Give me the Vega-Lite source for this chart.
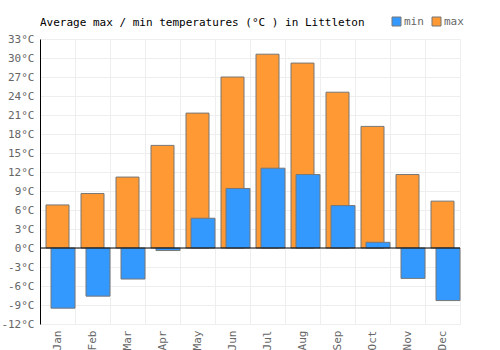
{
  "$schema": "https://vega.github.io/schema/vega-lite/v6.json",
  "width": 420,
  "height": 285,
  "autosize": {"type": "none"},
  "padding": {"left": 40, "top": 39, "right": 40, "bottom": 26},
  "background": "white",
  "title": {
    "text": "Average max / min temperatures (°C ) in Littleton",
    "anchor": "start",
    "frame": "group",
    "font": "DejaVu Sans Mono",
    "fontSize": 11,
    "fontWeight": "normal",
    "color": "#000000",
    "offset": -12
  },
  "config": {
    "view": {"stroke": null},
    "axis": {
      "labelFont": "DejaVu Sans Mono",
      "labelFontSize": 11,
      "labelColor": "#666666",
      "gridColor": "#eeeeee",
      "gridWidth": 1,
      "ticks": false,
      "title": null,
      "labelOverlap": false
    }
  },
  "data": {
    "values": [
      {"month": "Jan", "series": "max", "temp": 6.8},
      {"month": "Feb", "series": "max", "temp": 8.6},
      {"month": "Mar", "series": "max", "temp": 11.2},
      {"month": "Apr", "series": "max", "temp": 16.2},
      {"month": "May", "series": "max", "temp": 21.3},
      {"month": "Jun", "series": "max", "temp": 27.0},
      {"month": "Jul", "series": "max", "temp": 30.6},
      {"month": "Aug", "series": "max", "temp": 29.2},
      {"month": "Sep", "series": "max", "temp": 24.6},
      {"month": "Oct", "series": "max", "temp": 19.2},
      {"month": "Nov", "series": "max", "temp": 11.6},
      {"month": "Dec", "series": "max", "temp": 7.4},
      {"month": "Jan", "series": "min", "temp": -9.5},
      {"month": "Feb", "series": "min", "temp": -7.6},
      {"month": "Mar", "series": "min", "temp": -4.9},
      {"month": "Apr", "series": "min", "temp": -0.4},
      {"month": "May", "series": "min", "temp": 4.7},
      {"month": "Jun", "series": "min", "temp": 9.4},
      {"month": "Jul", "series": "min", "temp": 12.6},
      {"month": "Aug", "series": "min", "temp": 11.6},
      {"month": "Sep", "series": "min", "temp": 6.7},
      {"month": "Oct", "series": "min", "temp": 0.9},
      {"month": "Nov", "series": "min", "temp": -4.8},
      {"month": "Dec", "series": "min", "temp": -8.3}
    ]
  },
  "encoding": {
    "x": {
      "field": "month",
      "type": "nominal",
      "sort": ["Jan","Feb","Mar","Apr","May","Jun","Jul","Aug","Sep","Oct","Nov","Dec"],
      "scale": {"paddingInner": 0, "paddingOuter": 0},
      "axis": {
        "grid": true,
        "tickBand": "extent",
        "domain": false,
        "labelAngle": -90,
        "labelAlign": "right",
        "labelBaseline": "middle",
        "labelPadding": 6
      }
    },
    "y": {
      "field": "temp",
      "type": "quantitative",
      "scale": {"domain": [-12, 33], "nice": false, "zero": false},
      "axis": {
        "values": [-12,-9,-6,-3,0,3,6,9,12,15,18,21,24,27,30,33],
        "labelExpr": "datum.value + '°C'",
        "domain": true,
        "domainColor": "#000000",
        "grid": true,
        "labelPadding": 6,
        "labelOverlap": false
      }
    }
  },
  "layer": [
    {
      "transform": [{"filter": "datum.series == 'max'"}],
      "mark": {"type": "bar", "width": 23, "stroke": "#777777", "strokeWidth": 1},
      "encoding": {
        "y2": {"datum": 0},
        "color": {
          "field": "series",
          "type": "nominal",
          "scale": {"domain": ["min", "max"], "range": ["#3399ff", "#ff9933"]},
          "legend": {
            "title": null,
            "orient": "none",
            "direction": "horizontal",
            "legendX": 351,
            "legendY": -23,
            "symbolType": "square",
            "symbolSize": 81,
            "symbolStrokeColor": "#777777",
            "symbolStrokeWidth": 1,
            "labelFont": "DejaVu Sans Mono",
            "labelFontSize": 11,
            "labelColor": "#666666",
            "labelOffset": 2,
            "columnPadding": 6
          }
        }
      }
    },
    {
      "transform": [{"filter": "datum.series == 'min'"}],
      "mark": {"type": "bar", "width": 24, "xOffset": 5.5, "stroke": "#777777", "strokeWidth": 1},
      "encoding": {
        "y2": {"datum": 0},
        "color": {"field": "series", "type": "nominal"}
      }
    },
    {
      "transform": [{"filter": "datum.series == 'max' && datum.month == 'Jan'"}],
      "mark": {"type": "rule", "color": "#000000", "strokeWidth": 1},
      "encoding": {"y": {"datum": 0, "type": "quantitative"}, "x": null}
    }
  ]
}
